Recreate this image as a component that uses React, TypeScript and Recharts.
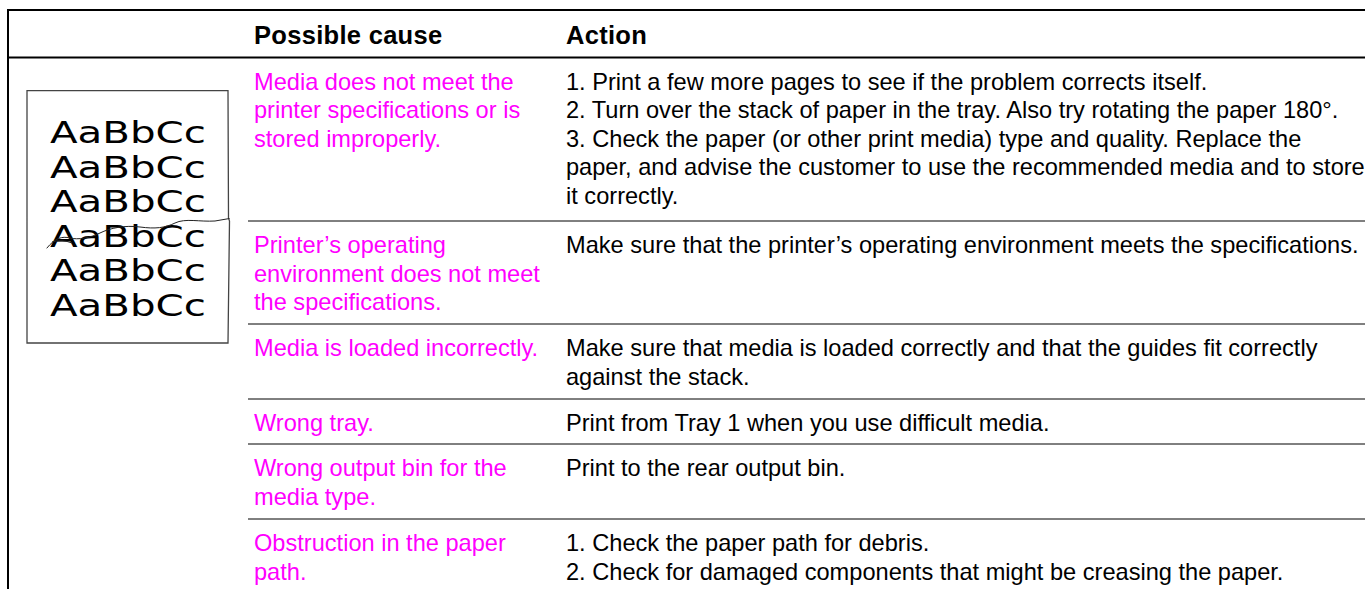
import React from "react";
import { ComposedChart, XAxis, YAxis, ReferenceLine, Customized } from "recharts";

const headers = ["Possible cause", "Action"];

const causes = [
	["Media does not meet the", "printer specifications or is", "stored improperly."],
	["Printer’s operating", "environment does not meet", "the specifications."],
	["Media is loaded incorrectly."],
	["Wrong tray."],
	["Wrong output bin for the", "media type."],
	["Obstruction in the paper", "path."],
];

const actions = [
	[
		"1. Print a few more pages to see if the problem corrects itself.",
		"2. Turn over the stack of paper in the tray. Also try rotating the paper 180°.",
		"3. Check the paper (or other print media) type and quality. Replace the",
		"paper, and advise the customer to use the recommended media and to store",
		"it correctly.",
	],
	["Make sure that the printer’s operating environment meets the specifications."],
	["Make sure that media is loaded correctly and that the guides fit correctly", "against the stack."],
	["Print from Tray 1 when you use difficult media."],
	["Print to the rear output bin."],
	["1. Check the paper path for debris.", "2. Check for damaged components that might be creasing the paper."],
];

const sampleLines = ["AaBbCc", "AaBbCc", "AaBbCc", "AaBbCc", "AaBbCc", "AaBbCc"];

// layout
const W = 1365;
const H = 589;
const FONT = '"Liberation Sans", Arial, Helvetica, sans-serif';
const PINK = "#ff00ff";
const CAUSE_X = 254;
const ACTION_X = 566;
const RULE_X = 248;
const LINE_H = 28.5;
const ROW_TOPS = [57.7, 221, 324, 399, 444, 519];

const rows = causes.map((lines, i) => ({ row: i, lines: Math.max(lines.length, actions[i].length) }));

const Cells = () => (
	<g fontFamily={FONT}>
		<text x={CAUSE_X} y={44} fontSize={25.5} fontWeight="bold" letterSpacing={0.3} fill="#000">
			{headers[0]}
		</text>
		<text x={ACTION_X} y={44} fontSize={25.5} fontWeight="bold" letterSpacing={0.3} fill="#000">
			{headers[1]}
		</text>
		{causes.map((lines, i) => (
			<text key={"c" + i} fontSize={23.6} fill={PINK}>
				{lines.map((l, j) => (
					<tspan key={j} x={CAUSE_X} y={ROW_TOPS[i] + 32 + j * LINE_H}>
						{l}
					</tspan>
				))}
			</text>
		))}
		{actions.map((lines, i) => (
			<text key={"a" + i} fontSize={23.6} fill="#000">
				{lines.map((l, j) => (
					<tspan key={j} x={ACTION_X} y={ROW_TOPS[i] + 32 + j * LINE_H}>
						{l}
					</tspan>
				))}
			</text>
		))}
		{/* creased sample page */}
		<path
			d="M27,90.7 L228,90.7 L228.5,218 L229.5,221 L228,343 L27,343 Z"
			fill="#fff"
			stroke="#444"
			strokeWidth={1.3}
		/>
		<text fontFamily='"DejaVu Sans", sans-serif' fontSize={30} fill="#000">
			{sampleLines.map((s, i) => (
				<tspan key={i} x={50} y={143 + i * 34.5} textLength={156} lengthAdjust="spacingAndGlyphs">
					{s}
				</tspan>
			))}
		</text>
		<path
			d="M46.7,248.3 C55,238 62,236 70,238 S90,238 100,233 S125,225 140,227 S165,228 175,223 S200,222 215,221 L229.5,218.5"
			fill="none"
			stroke="#222"
			strokeWidth={1}
		/>
		<path d="M52,242 Q62,239 72,243" fill="none" stroke="#222" strokeWidth={1} />
	</g>
);

const App = () => {
	return (
		<div style={{ position: "absolute", left: 0, top: 0, background: "#fff" }}>
			<ComposedChart width={W} height={H} data={rows} margin={{ top: 0, right: 0, left: 0, bottom: 0 }}>
				<XAxis type="number" dataKey="row" domain={[0, W]} allowDataOverflow hide />
				<YAxis type="number" dataKey="lines" domain={[0, H]} allowDataOverflow reversed hide />
				<ReferenceLine segment={[{ x: 7, y: 10 }, { x: W, y: 10 }]} stroke="#000" strokeWidth={2} ifOverflow="visible" />
				<ReferenceLine segment={[{ x: 7, y: 57.5 }, { x: W, y: 57.5 }]} stroke="#000" strokeWidth={2} ifOverflow="visible" />
				<ReferenceLine segment={[{ x: 8, y: 9 }, { x: 8, y: H }]} stroke="#000" strokeWidth={2} ifOverflow="visible" />
				{ROW_TOPS.slice(1).map((y) => (
					<ReferenceLine key={y} segment={[{ x: RULE_X, y }, { x: W, y }]} stroke="#000" strokeWidth={1} ifOverflow="visible" />
				))}
				<Customized component={Cells} />
			</ComposedChart>
		</div>
	);
};

export default App;
